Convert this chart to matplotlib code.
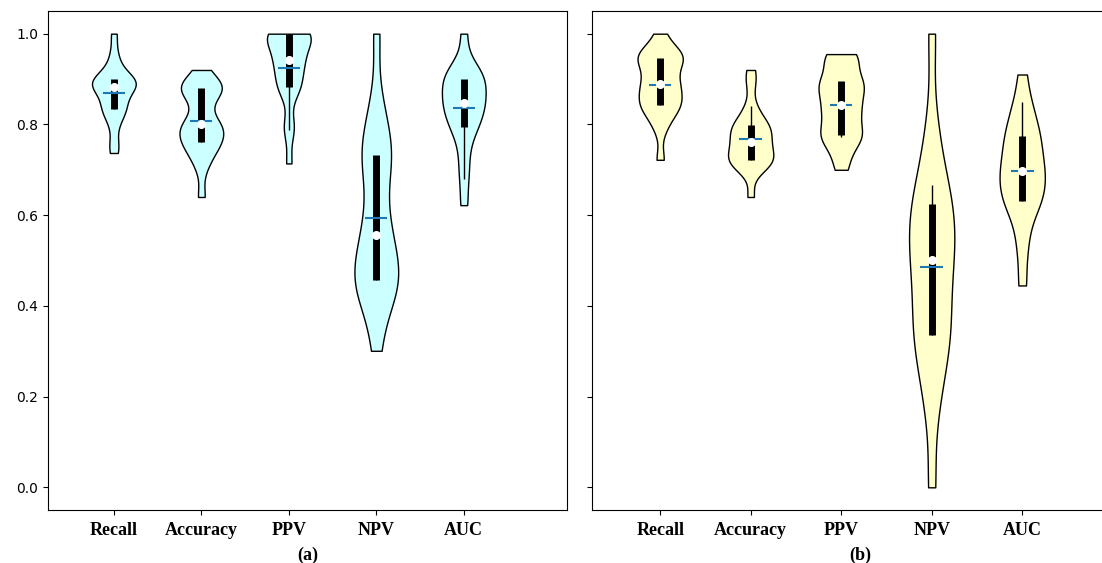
import matplotlib.pyplot as plt
import numpy as np

metrics = ['Recall', 'Accuracy', 'PPV', 'NPV', 'AUC']

# per-run scores, model (a)
recall_a = [0.86, 0.899, 0.737, 0.93, 0.882, 0.834, 1.0, 0.872, 0.80, 0.893,
            0.955, 0.76, 0.888, 0.834, 0.91, 0.897, 0.82, 0.882, 0.899, 0.845]
accuracy_a = [0.79, 0.88, 0.64, 0.845, 0.92, 0.763, 0.865, 0.705, 0.803, 0.886,
              0.73, 0.882, 0.755, 0.81, 0.893, 0.745, 0.797, 0.88, 0.782, 0.772]
ppv_a = [0.787, 1.0, 0.941, 0.714, 1.0, 0.883, 0.96, 0.90, 1.0, 0.87,
         0.975, 0.941, 1.0, 0.80, 0.935, 0.883, 1.0, 0.92, 0.99, 1.0]
npv_a = [0.55, 0.733, 0.42, 1.0, 0.456, 0.60, 0.301, 0.80, 0.49, 0.456,
         0.85, 0.44, 0.562, 0.76, 0.38, 0.65, 0.733, 0.47, 0.52, 0.70]
auc_a = [0.679, 0.899, 0.622, 0.92, 0.848, 0.794, 1.0, 0.81, 0.875, 0.72,
         0.935, 0.838, 0.794, 0.888, 0.76, 0.91, 0.848, 0.825, 0.899, 0.86]

# per-run scores, model (b)
recall_b = [0.875, 0.947, 0.722, 0.968, 0.842, 0.92, 0.79, 1.0, 0.865, 0.89,
            0.952, 0.815, 0.935, 0.842, 0.958, 0.83, 0.89, 0.947, 0.855, 0.905]
accuracy_b = [0.75, 0.721, 0.92, 0.64, 0.785, 0.73, 0.798, 0.70, 0.761, 0.89,
              0.715, 0.775, 0.721, 0.74, 0.82, 0.71, 0.798, 0.761, 0.795, 0.84]
ppv_b = [0.772, 0.955, 0.70, 0.843, 0.776, 0.93, 0.815, 0.895, 0.73, 0.88,
         0.955, 0.76, 0.83, 0.945, 0.776, 0.89, 0.80, 0.895, 0.843, 0.87]
npv_b = [0.49, 0.624, 0.17, 1.0, 0.335, 0.56, 0.0, 0.72, 0.41, 0.512,
         0.29, 0.80, 0.59, 0.335, 0.45, 0.24, 0.624, 0.53, 0.37, 0.667]
auc_b = [0.698, 0.774, 0.52, 0.91, 0.631, 0.735, 0.445, 0.83, 0.665, 0.698,
         0.57, 0.80, 0.715, 0.631, 0.755, 0.61, 0.774, 0.68, 0.65, 0.849]

data_a = [recall_a, accuracy_a, ppv_a, npv_a, auc_a]
data_b = [recall_b, accuracy_b, ppv_b, npv_b, auc_b]

serif = 'Liberation Serif'


def adjacent_values(vals, q1, q3):
    upper = min(max(q3 + (q3 - q1) * 1.5, q3), vals[-1])
    lower = min(max(q1 - (q3 - q1) * 1.5, vals[0]), q1)
    return lower, upper


def draw_panel(ax, data, color, tag):
    pos = np.arange(1, len(data) + 1)
    parts = ax.violinplot(data, positions=pos, showmeans=True, showextrema=False,
                          bw_method=0.35)
    for body in parts['bodies']:
        body.set_facecolor(color)
        body.set_edgecolor('black')
        body.set_linewidth(1)
        body.set_alpha(1)
        body.set_zorder(1)
    parts['cmeans'].set_zorder(4)

    q1, med, q3 = np.percentile(np.array(data), [25, 50, 75], axis=1)
    wh = np.array([adjacent_values(d, a, b) for d, a, b in zip(data, q1, q3)])
    ax.vlines(pos, wh[:, 0], wh[:, 1], color='k', linestyle='-', lw=1, zorder=2)
    ax.vlines(pos, q1, q3, color='k', linestyle='-', lw=5, zorder=3)
    ax.scatter(pos, med, marker='o', color='white', s=30, zorder=5)

    ax.set_xticks(pos)
    ax.set_xticklabels(metrics, fontfamily=serif, fontweight='bold', fontsize=13)
    ax.set_xlabel(tag, fontfamily=serif, fontweight='bold', fontsize=13, labelpad=6)
    ax.set_xlim(0.247, 6.18)
    ax.set_ylim(-0.05, 1.05)
    ax.tick_params(axis='y', labelsize=10)
    ax.tick_params(axis='x', pad=5)


fig = plt.figure(figsize=(11.02, 5.63), dpi=100)
ax1 = fig.add_axes([48 / 1102, 53 / 563, 519 / 1102, 499 / 563])
ax2 = fig.add_axes([592 / 1102, 53 / 563, 537 / 1102, 499 / 563], sharey=ax1)

draw_panel(ax1, data_a, '#ccffff', '(a)')
draw_panel(ax2, data_b, '#ffffcc', '(b)')
ax2.tick_params(axis='y', labelleft=False)

fig.savefig('out.png', dpi=100)
